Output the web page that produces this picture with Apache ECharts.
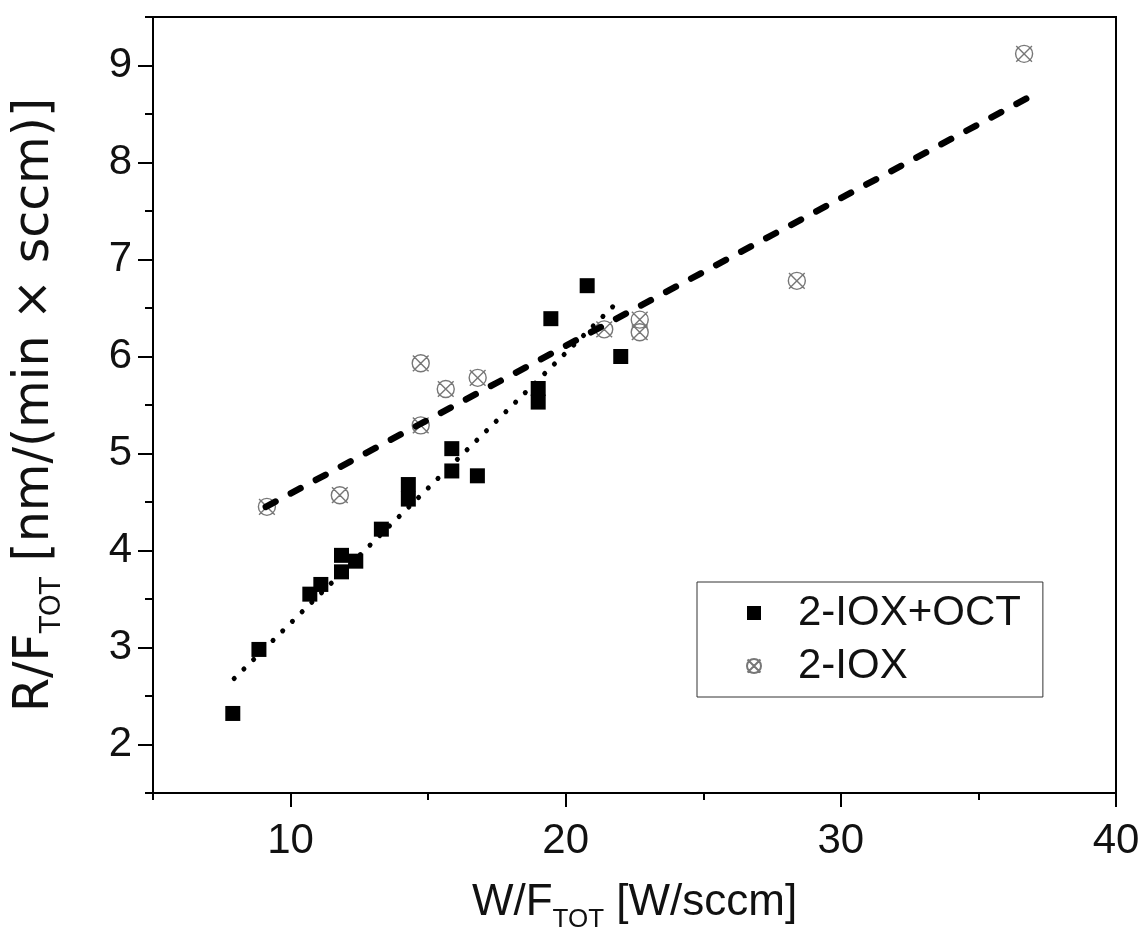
<!DOCTYPE html>
<html>
<head>
<meta charset="utf-8">
<script src="https://cdn.jsdelivr.net/npm/echarts@6/dist/echarts.min.js"></script>
<style>
html,body{margin:0;padding:0;background:#fff;}
#chart{width:1143px;height:943px;}
</style>
</head>
<body>
<div id="chart"></div>
<script>
// ---- data ----
const seriesNames = ['2-IOX+OCT', '2-IOX'];
// 2-IOX+OCT (filled squares): [W/F_TOT, R/F_TOT]
const ioxOctX = [7.9, 8.85, 10.7, 11.1, 11.85, 11.85, 12.37, 13.3, 14.28, 14.28, 15.86, 15.86, 16.79, 19.0, 19.0, 19.46, 20.78, 22.0];
const ioxOctY = [2.32, 2.98, 3.55, 3.65, 3.95, 3.78, 3.89, 4.22, 4.68, 4.53, 5.05, 4.82, 4.77, 5.67, 5.53, 6.39, 6.73, 6.0];
// 2-IOX (crossed circles)
const ioxX = [9.14, 11.79, 14.73, 14.73, 15.64, 16.8, 21.4, 22.69, 22.69, 28.4, 36.66];
const ioxY = [4.45, 4.57, 5.93, 5.29, 5.665, 5.78, 6.28, 6.38, 6.25, 6.78, 9.12];
// fit lines (end points)
const fitOctX = [7.95, 21.77];
const fitOctY = [2.68, 6.53];
const fitIoxX = [9.1, 36.75];
const fitIoxY = [4.45, 8.66];
// axis ticks / labels
const xMajor = [10, 20, 30, 40];
const xMinor = [5, 15, 25, 35];
const yMajor = [2, 3, 4, 5, 6, 7, 8, 9];
const yMinor = [1.5, 2.5, 3.5, 4.5, 5.5, 6.5, 7.5, 8.5, 9.5];

const zip = (xs, ys) => xs.map((x, i) => [x, ys[i]]);

const FONT = '"Liberation Sans", Arial, sans-serif';
const FONT_Y = '"DejaVu Sans", "Liberation Sans", sans-serif';
const crossCircle = 'path://M2,10 A8,8 0 1,1 18,10 A8,8 0 1,1 2,10 Z M2.6,2.6 L17.4,17.4 M17.4,2.6 L2.6,17.4';

const chart = echarts.init(document.getElementById('chart'), null, {renderer: 'canvas'});

const axisCommonX = {type: 'value', min: 5, max: 40, position: 'bottom', splitLine: {show: false}};
const axisCommonY = {type: 'value', min: 1.5, max: 9.5, position: 'left', splitLine: {show: false}};

const titleRichX = {
  a: {fontSize: 44, fontFamily: FONT, color: '#111', lineHeight: 46, verticalAlign: 'top'},
  b: {fontSize: 26, fontFamily: FONT, color: '#111', lineHeight: 26, verticalAlign: 'top', padding: [26, 0, 0, 0]}
};
const titleRichY = {
  a: {fontSize: 49, fontFamily: FONT_Y, color: '#111', lineHeight: 50, verticalAlign: 'top'},
  b: {fontSize: 28, fontFamily: FONT_Y, color: '#111', lineHeight: 28, verticalAlign: 'top', padding: [28, 0, 0, 0]}
};

const option = {
  backgroundColor: '#fff',
  animation: false,
  grid: {left: 153, right: 27, top: 17, bottom: 150, show: true, borderColor: '#000', borderWidth: 2, backgroundColor: 'transparent'},
  legend: {
    data: seriesNames,
    orient: 'vertical',
    left: 697, top: 582,
    padding: [10, 22, 10, 49],
    itemWidth: 14, itemHeight: 14,
    itemGap: 11,
    borderColor: '#333', borderWidth: 1,
    textStyle: {fontSize: 42, fontFamily: FONT, color: '#111', padding: [0, 0, 0, 32]},
    inactiveColor: '#000'
  },
  xAxis: [
    Object.assign({}, axisCommonX, {
      name: '{a|W/F}{b|TOT}{a| [W/sccm]}',
      nameLocation: 'middle', nameGap: 88,
      nameTextStyle: {rich: titleRichX},
      axisLine: {show: true, lineStyle: {color: '#000', width: 2}},
      axisTick: {show: true, inside: false, length: 14, customValues: xMajor, lineStyle: {color: '#000', width: 2}},
      axisLabel: {show: true, customValues: xMajor, margin: 27, fontSize: 42, fontFamily: FONT, color: '#111'}
    }),
    Object.assign({}, axisCommonX, {
      axisLine: {show: false},
      axisTick: {show: true, inside: false, length: 7, customValues: xMinor, lineStyle: {color: '#000', width: 2}},
      axisLabel: {show: false}
    })
  ],
  yAxis: [
    Object.assign({}, axisCommonY, {
      name: '{a|R/F}{b|TOT}{a| [nm/(min × sccm)]}',
      nameLocation: 'middle', nameGap: 92, nameRotate: 90,
      nameTextStyle: {rich: titleRichY},
      axisLine: {show: true, lineStyle: {color: '#000', width: 2}},
      axisTick: {show: true, inside: false, length: 15, customValues: yMajor, lineStyle: {color: '#000', width: 2}},
      axisLabel: {show: true, customValues: yMajor, margin: 21, fontSize: 42, fontFamily: FONT, color: '#111'}
    }),
    Object.assign({}, axisCommonY, {
      axisLine: {show: false},
      axisTick: {show: true, inside: false, length: 8, customValues: yMinor, lineStyle: {color: '#000', width: 2}},
      axisLabel: {show: false}
    })
  ],
  series: [
    {
      name: seriesNames[0], type: 'scatter', symbol: 'rect', symbolSize: 15,
      itemStyle: {color: '#000', opacity: 1},
      data: zip(ioxOctX, ioxOctY), z: 3
    },
    {
      name: seriesNames[1], type: 'scatter', symbol: crossCircle, symbolSize: 17,
      itemStyle: {color: 'rgba(255,255,255,0)', borderColor: '#777', borderWidth: 1.4, opacity: 1},
      data: zip(ioxX, ioxY), z: 3
    },
    {
      name: 'fitOct', type: 'line', showSymbol: false, symbol: 'none', silent: true,
      lineStyle: {color: '#000', width: 5, type: [0.1, 13.5], cap: 'round'},
      data: zip(fitOctX, fitOctY), z: 4
    },
    {
      name: 'fitIox', type: 'line', showSymbol: false, symbol: 'none', silent: true,
      lineStyle: {color: '#000', width: 6.5, type: [11, 17.4], cap: 'round'},
      data: zip(fitIoxX, fitIoxY), z: 4
    }
  ]
};
chart.setOption(option);
</script>
</body>
</html>
